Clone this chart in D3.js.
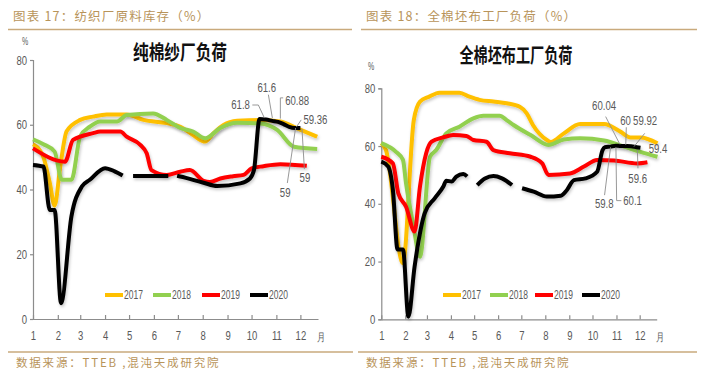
<!DOCTYPE html>
<html><head><meta charset="utf-8">
<script src="https://cdn.jsdelivr.net/npm/d3@7"></script>
<style>
html,body{margin:0;padding:0;background:#fff;}
svg{display:block;}
.narrow{font-family:"Liberation Sans Narrow","Arial Narrow","Liberation Sans",sans-serif;}
</style></head>
<body><svg id="c" width="706" height="382"></svg>
<script>
// ---------- DATA (day-of-year, value %) ----------
const yearsLegend = ["2017","2018","2019","2020"];
const seriesColors = ["#FFC000","#92D050","#FF0000","#000000"];
const yTicks = [0,20,40,60,80];
const monthLabels = ["1","2","3","4","5","6","7","8","9","10","11","12"];

// Chart 1: 纯棉纱厂负荷
const yarn2017 = [[0,54],[9,52],[13,50],[21,42],[27,35],[34,47],[42,58],[59,61.5],[75,62.5],[92,63.2],[117,63.2],[138,61.5],[167,60.5],[184,59.4],[200,56.8],[215,54.8],[226,57.5],[238,59.9],[255,61.2],[284,61.5],[309,61],[330,58.9],[355,56.3]];
const yarn2018 = [[0,55.5],[13,54],[27,51.7],[36,43],[48,43],[59,56.4],[71,59.4],[84,61],[105,61],[117,63],[150,63.5],[167,61.5],[184,59],[200,57.9],[215,55.8],[234,59],[255,60.6],[284,60.4],[305,58.4],[326,53.2],[355,52.5]];
const yarn2019 = [[0,52.7],[40,48.6],[50,55.3],[75,57.4],[84,57.9],[109,57.9],[117,56.3],[134,53.8],[142,51.2],[148,46],[167,44.5],[184,45.5],[196,46],[213,42.7],[221,42.3],[234,43.4],[250,44.1],[263,44.5],[273,46.5],[288,47.2],[309,47.8],[342,47.3]];
const yarn2020 = [[0,47.6],[13,47.1],[21,33.7],[27,33.7],[35,4.9],[48,31.7],[61,40.9],[71,43],[90,46.6],[102,45.6],[112,44.3],[118,null],[125,44.2],[169,44.2],[175,null],[180,44.2],[184,44],[213,42.1],[230,41.1],[259,41.9],[271,43.4],[276,46],[283,61.8],[291,61.6],[299,61.2],[306,60.88],[313,60.2],[320,59.36],[327,59],[334,59]];

// Chart 2: 全棉坯布工厂负荷
const cloth2017 = [[0,61],[6,58.6],[28,19.4],[42,69],[50,75.4],[62,77.1],[75,78.5],[101,78.5],[114,77.1],[127,76],[145,75.4],[162,74.8],[179,73.6],[188,71.3],[196,67.3],[214,62.1],[219,61.4],[236,64.4],[257,67.6],[288,67.6],[309,65],[322,63],[335,63],[357,61]];
const cloth2018 = [[0,61],[19,58],[28,55.2],[32,47],[41,33.2],[50,21.7],[63,56.3],[71,58.6],[84,64.4],[101,66.7],[119,69.6],[132,70.5],[153,70.5],[162,69],[171,67.3],[193,63.8],[216,60.4],[236,62.3],[257,62.7],[288,61.9],[314,59.8],[335,58],[357,56.3]];
const cloth2019 = [[0,56.3],[15,54],[22,43.6],[32,39],[43,30.4],[50,46],[58,57.5],[65,61.5],[80,63],[93,63.8],[110,63.5],[119,62.1],[136,61.5],[145,58.6],[166,57.5],[193,56.3],[208,54],[216,50],[244,50.5],[262,52.9],[279,55.2],[301,55],[331,54],[344,54.4]];
const cloth2020 = [[0,54.6],[9,52.9],[15,44.8],[21,24.2],[28,24.2],[35,0.9],[43,18.2],[56,36.7],[69,41.9],[80,45.9],[84,48],[91,47.7],[97,49.4],[106,50.3],[111,49.5],[117,null],[124,46.5],[134,48.8],[145,49.6],[156,48.8],[169,46.5],[175,null],[182,45.4],[197,44.2],[214,42.5],[232,42.8],[240,44.8],[249,48.2],[264,48.8],[279,51.1],[286,58.6],[289,59.6],[296,59.8],[303,60.1],[308,60.04],[316,60],[323,59.92],[330,59.6],[335,59.4]];

// annotations: text, text position (day,value), anchor, leader points (day,value)
const yarnNotes = [
  {t:"61.8", at:[271,66.1], a:"end", pts:[[274,66.1],[281.5,66.1],[289,62.1]]},
  {t:"61.6", at:[292,71.4], a:"middle", pts:[[294,69.3],[299,62.1]]},
  {t:"60.88", at:[315,67.3], a:"start", pts:[[312.5,68.3],[309,68.3],[309,61.9]]},
  {t:"59.36", at:[337.8,61.5], a:"start", pts:[[335,61.5],[329,59.3]]},
  {t:"59", at:[315,38.9], a:"middle", pts:[[317.7,42],[328,59]]},
  {t:"59", at:[333,43.6], a:"start", pts:[[339,46.3],[336,58.7]]}
];
const clothNotes = [
  {t:"60.04", at:[288,73.9], a:"middle", pts:[[290,70.2],[308.4,60.6]]},
  {t:"60", at:[315.8,68.7], a:"middle", pts:[[316.7,66.5],[316,60.4]]},
  {t:"59.92", at:[341,68.7], a:"middle", pts:[[340.5,64.4],[326.6,59.8]]},
  {t:"59.4", at:[345.6,59], a:"start", pts:[]},
  {t:"59.6", at:[331.4,48.8], a:"middle", pts:[[331.8,52.3],[331,58.6]]},
  {t:"59.8", at:[288.2,39.9], a:"middle", pts:[[288.6,43],[296.4,59.6]]},
  {t:"60.1", at:[312.8,41.1], a:"start", pts:[[310.3,41.1],[304.2,41.1],[303.3,59.6]]}
];

// ---------- DRAW ----------
const svg = d3.select("#c");
svg.append("rect").attr("width",706).attr("height",382).attr("fill","#fff");
const defs = svg.append("defs");
defs.append("filter").attr("id","sh").attr("x","-5%").attr("y","-5%").attr("width","110%").attr("height","120%")
  .append("feDropShadow").attr("dx",1).attr("dy",2).attr("stdDeviation",1.4).attr("flood-color","#000").attr("flood-opacity",0.22);

const base = new Date(2019,0,1);
const toDate = d => base.getTime() + d*864e5;
const gold = "#b8945a";

function header(x0,x1,text){
  svg.append("text").attr("x",x0+5).attr("y",21).attr("fill",gold)
    .attr("font-family","'Noto Sans CJK SC',sans-serif").attr("font-size",12.5).attr("letter-spacing",1.2).text(text);
  svg.append("line").attr("x1",x0).attr("x2",x1).attr("y1",29.5).attr("y2",29.5).attr("stroke","#c9aa7c").attr("stroke-width",1.5);
}
function footer(x0,x1){
  svg.append("line").attr("x1",x0).attr("x2",x1).attr("y1",352).attr("y2",352).attr("stroke","#c9aa7c").attr("stroke-width",1.5);
  svg.append("text").attr("x",x0+8).attr("y",367).attr("fill",gold)
    .attr("font-family","'Noto Sans CJK SC',sans-serif").attr("font-size",11.5).attr("letter-spacing",1.8).text("数据来源：TTEB ,混沌天成研究院");
}

function chart(cfg){
  const x = d3.scaleTime().domain([base, new Date(2019,11,23)]).range([cfg.x0,cfg.x1]);
  const y = d3.scaleLinear().domain([0,80]).range([cfg.yb,cfg.yt]);
  const xd = d => x(toDate(d));
  const g = svg.append("g");

  // title
  g.append("text").attr("x",cfg.tx).attr("y",cfg.ty).attr("text-anchor","middle")
    .attr("font-family","'Noto Sans CJK SC',sans-serif").attr("font-weight",700).attr("font-size",20)
    .attr("textLength",cfg.tw).attr("lengthAdjust","spacingAndGlyphs").attr("fill","#111").text(cfg.title);
  g.append("text").attr("class","narrow").attr("data-r",0.7).attr("x",cfg.px).attr("y",cfg.py).attr("font-size",10).attr("fill","#595959").text("%");

  // axes
  const ya = g.append("g").attr("transform",`translate(${cfg.x0},0)`)
    .call(d3.axisLeft(y).tickValues(yTicks).tickSize(3).tickPadding(3));
  const xa = g.append("g").attr("transform",`translate(0,${cfg.yb})`)
    .call(d3.axisBottom(x).tickValues(d3.range(12).map(m=>new Date(2019,m,1)))
      .tickFormat((d,i)=>monthLabels[i]).tickSizeInner(-4).tickSizeOuter(0).tickPadding(12));
  [ya,xa].forEach(a=>{
    a.selectAll("path,line").attr("stroke","#8c8c8c").attr("stroke-width",1.2);
    a.selectAll("text").attr("class","narrow").attr("data-r",0.76).attr("font-size",12.5).attr("fill","#595959");
  });
  g.append("text").attr("class","narrow").attr("data-r",0.75).attr("x",cfg.x1-1).attr("y",cfg.yb+22).attr("font-size",11)
    .attr("fill","#595959").text("月");

  // lines
  const line = d3.line().defined(d=>d[1]!==null).x(d=>xd(d[0])).y(d=>y(d[1])).curve(d3.curveMonotoneX);
  cfg.series.forEach((s,i)=>{
    g.append("path").datum(s).attr("d",line).attr("fill","none").attr("stroke",seriesColors[i])
      .attr("stroke-width",4).attr("stroke-linejoin","round").attr("filter","url(#sh)");
  });

  // annotations
  const ann = g.append("g");
  cfg.notes.forEach(n=>{
    if(n.pts.length) ann.append("polyline").attr("points",n.pts.map(p=>[xd(p[0]),y(p[1])].join(",")).join(" "))
      .attr("fill","none").attr("stroke","#8c8c8c").attr("stroke-width",0.9);
    ann.append("text").attr("class","narrow").attr("data-r",0.8).attr("x",xd(n.at[0])).attr("y",y(n.at[1]))
      .attr("dy","0.35em").attr("text-anchor",n.a).attr("font-size",12).attr("fill","#595959").text(n.t);
  });

  // legend
  const lg = g.append("g");
  yearsLegend.forEach((t,i)=>{
    const lx = cfg.lx[i];
    lg.append("line").attr("x1",lx).attr("x2",lx+18).attr("y1",cfg.ly).attr("y2",cfg.ly)
      .attr("stroke",seriesColors[i]).attr("stroke-width",4);
    lg.append("text").attr("class","narrow").attr("data-r",0.68).attr("x",lx+19).attr("y",cfg.ly).attr("dy","0.35em")
      .attr("font-size",12.5).attr("fill","#595959").text(t);
  });
}

header(8,352,"图表 17：纺织厂原料库存（%）");
header(361,697,"图表 18：全棉坯布工厂负荷（%）");
footer(8,353);
footer(358,697);

chart({x0:33,x1:318,yb:319,yt:60,title:"纯棉纱厂负荷",tx:180,ty:60,tw:94,px:22,py:45,
  series:[yarn2017,yarn2018,yarn2019,yarn2020],notes:yarnNotes,lx:[105,153,202,250],ly:295});
chart({x0:381.3,x1:656.7,yb:319.3,yt:88.3,title:"全棉坯布工厂负荷",tx:516,ty:63,tw:113,px:368,py:70,
  series:[cloth2017,cloth2018,cloth2019,cloth2020],notes:clothNotes,lx:[443,490,535,582],ly:295});

// condense "narrow" labels (Arial Narrow look)
svg.selectAll("text.narrow").each(function(){
  const r = +this.getAttribute("data-r") || 0.78;
  const len = this.getComputedTextLength();
  if(len>0) d3.select(this).attr("textLength",len*r).attr("lengthAdjust","spacingAndGlyphs");
});
</script></body></html>
